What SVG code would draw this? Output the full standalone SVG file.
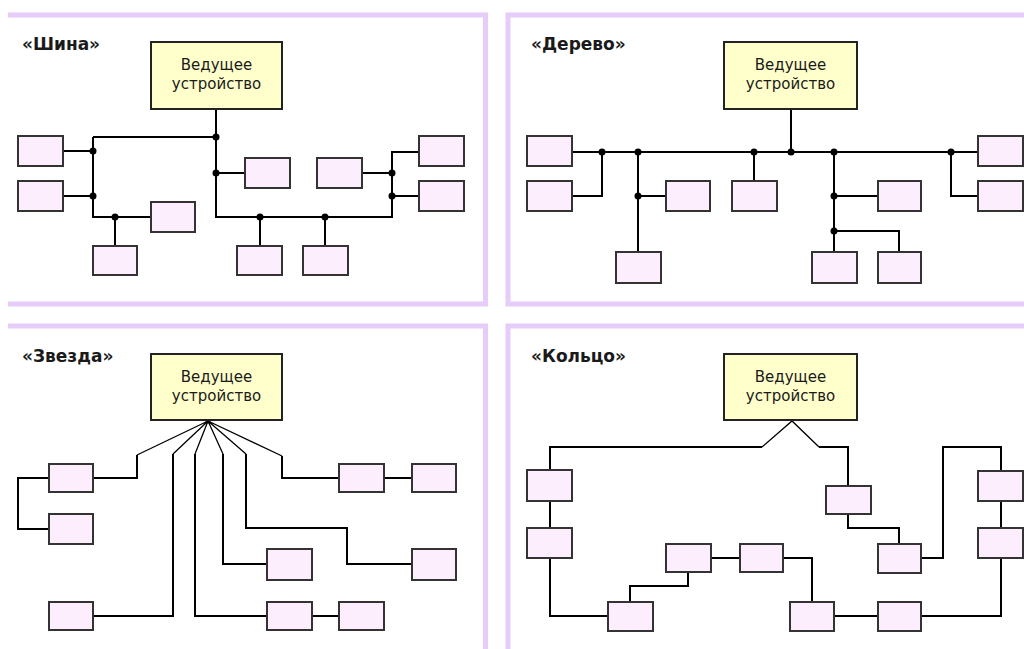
<svg xmlns="http://www.w3.org/2000/svg" width="1024" height="649" viewBox="0 0 1024 649">
<style>
.frame{fill:none;stroke:#E6CCF8;stroke-width:5}
.master{fill:#FFFFCC;stroke:#222;stroke-width:2}
.dev{fill:#FCEEFC;stroke:#333;stroke-width:2}
.wire{fill:none;stroke:#000;stroke-width:2}
.thin{fill:none;stroke:#000;stroke-width:1.3}
.dot{fill:#000}
.title{font-family:"DejaVu Sans",sans-serif;font-weight:bold;font-size:17px;fill:#1a1a1a}
.label{font-family:"DejaVu Sans",sans-serif;font-size:15px;fill:#1a1a1a;text-anchor:middle}
</style>
<rect width="1024" height="649" fill="#fff"/>
<g id="frames">
<path class="frame" d="M8 15 H485.5 V304 H8"/>
<path class="frame" d="M1024 15 H508 V304 H1024"/>
<path class="frame" d="M8 326 H485.5 V649"/>
<path class="frame" d="M1024 326 H508 V649"/>
</g>
<g id="titles">
<text class="title" x="22" y="50">«Шина»</text>
<text class="title" x="531" y="50">«Дерево»</text>
<text class="title" x="22" y="362">«Звезда»</text>
<text class="title" x="531" y="362">«Кольцо»</text>
</g>
<g id="connectors">
<!-- Bus -->
<path class="wire" d="M216 109 V217 H392 V152 H419"/>
<path class="wire" d="M93 137 H216"/>
<path class="wire" d="M93 137 V217 H151"/>
<path class="wire" d="M63 151 H93 M63 196 H93 M115 217 V246 M216 173 H245 M260 217 V246 M325 217 V246 M362 173 H392 M392 196 H419"/>
<!-- Tree -->
<path class="wire" d="M791 109 V152 M572 152 H978 M602 152 V196 H572 M638 152 V252 M638 196 H666 M754 152 V181 M834 152 V252 M834 196 H878 M834 231 H899 V252 M951 152 V196 H978"/>
<!-- Star -->
<path class="thin" d="M208 421 L137 455 M208 421 L173 454 M208 421 L195 454 M208 421 L223 454 M208 421 L246 454 M208 421 L282 456"/>
<path class="wire" d="M137 455 V478 H93 M49 478 H18 V529 H49 M173 454 V616 H93 M195 454 V616 H267 M312 616 H339 M223 454 V564 H267 M246 454 V528 H347 V564 H412 M282 456 V478 H339 M384 478 H412"/>
<!-- Ring -->
<path class="thin" d="M762 447 L792 421 L819 447"/>
<path class="wire" d="M762 447 H550 V470 M819 447 H848 V486 M848 514 V528 H899 V544 M921 558 H943 V447 H1001 V471 M1001 501 V528 M1001 558 V616 H921 M878 616 H834 M812 602 V558 H783 M740 558 H711 M688 572 V586 H630 V602 M608 616 H550 V558 M550 501 V528"/>
<g class="dot">
<circle cx="216" cy="137" r="3.5"/><circle cx="93" cy="151" r="3.5"/><circle cx="93" cy="196" r="3.5"/><circle cx="115" cy="217" r="3.5"/><circle cx="216" cy="173" r="3.5"/><circle cx="260" cy="217" r="3.5"/><circle cx="325" cy="217" r="3.5"/><circle cx="392" cy="173" r="3.5"/><circle cx="392" cy="196" r="3.5"/>
<circle cx="602" cy="152" r="3.5"/><circle cx="638" cy="152" r="3.5"/><circle cx="638" cy="196" r="3.5"/><circle cx="754" cy="152" r="3.5"/><circle cx="791" cy="152" r="3.5"/><circle cx="834" cy="152" r="3.5"/><circle cx="834" cy="196" r="3.5"/><circle cx="834" cy="231" r="3.5"/><circle cx="951" cy="152" r="3.5"/>
<circle cx="208" cy="421" r="2.5"/>
</g>
</g>
<g id="bus-master"><rect class="master" x="151" y="42" width="131" height="67"/><text class="label" x="216.5" y="70">Ведущее</text><text class="label" x="216.5" y="89">устройство</text></g>
<g id="bus-devices">
<rect id="bus-a" class="dev" x="18" y="136" width="45" height="30"/>
<rect id="bus-b" class="dev" x="18" y="181" width="45" height="30"/>
<rect id="bus-c" class="dev" x="151" y="202" width="44" height="30"/>
<rect id="bus-d" class="dev" x="93" y="246" width="44" height="29"/>
<rect id="bus-e" class="dev" x="245" y="158" width="45" height="30"/>
<rect id="bus-f" class="dev" x="237" y="246" width="45" height="29"/>
<rect id="bus-g" class="dev" x="303" y="246" width="45" height="29"/>
<rect id="bus-h" class="dev" x="317" y="158" width="45" height="30"/>
<rect id="bus-i" class="dev" x="419" y="136" width="45" height="30"/>
<rect id="bus-j" class="dev" x="419" y="181" width="45" height="30"/>
</g>
<g id="tree-master"><rect class="master" x="724" y="42" width="133" height="67"/><text class="label" x="790.5" y="70">Ведущее</text><text class="label" x="790.5" y="89">устройство</text></g>
<g id="tree-devices">
<rect id="tree-1" class="dev" x="527" y="136" width="45" height="30"/>
<rect id="tree-2" class="dev" x="527" y="181" width="45" height="30"/>
<rect id="tree-3" class="dev" x="666" y="181" width="44" height="30"/>
<rect id="tree-4" class="dev" x="616" y="252" width="45" height="31"/>
<rect id="tree-5" class="dev" x="732" y="181" width="45" height="30"/>
<rect id="tree-6" class="dev" x="878" y="181" width="43" height="30"/>
<rect id="tree-7" class="dev" x="812" y="252" width="45" height="31"/>
<rect id="tree-8" class="dev" x="878" y="252" width="43" height="31"/>
<rect id="tree-9" class="dev" x="978" y="136" width="45" height="30"/>
<rect id="tree-10" class="dev" x="978" y="181" width="45" height="30"/>
</g>
<g id="star-master"><rect class="master" x="151" y="354" width="131" height="66"/><text class="label" x="216.5" y="382">Ведущее</text><text class="label" x="216.5" y="401">устройство</text></g>
<g id="star-devices">
<rect id="star-1" class="dev" x="49" y="464" width="44" height="28"/>
<rect id="star-2" class="dev" x="49" y="514" width="44" height="30"/>
<rect id="star-3" class="dev" x="49" y="602" width="44" height="28"/>
<rect id="star-4" class="dev" x="267" y="549" width="45" height="31"/>
<rect id="star-5" class="dev" x="267" y="602" width="45" height="28"/>
<rect id="star-6" class="dev" x="339" y="602" width="45" height="28"/>
<rect id="star-7" class="dev" x="412" y="549" width="44" height="31"/>
<rect id="star-8" class="dev" x="339" y="464" width="45" height="28"/>
<rect id="star-9" class="dev" x="412" y="464" width="44" height="28"/>
</g>
<g id="ring-master"><rect class="master" x="724" y="354" width="133" height="66"/><text class="label" x="790.5" y="382">Ведущее</text><text class="label" x="790.5" y="401">устройство</text></g>
<g id="ring-devices">
<rect id="ring-1" class="dev" x="826" y="486" width="45" height="28"/>
<rect id="ring-2" class="dev" x="878" y="544" width="43" height="29"/>
<rect id="ring-3" class="dev" x="978" y="471" width="45" height="30"/>
<rect id="ring-4" class="dev" x="978" y="528" width="45" height="30"/>
<rect id="ring-5" class="dev" x="878" y="602" width="43" height="29"/>
<rect id="ring-6" class="dev" x="790" y="602" width="44" height="29"/>
<rect id="ring-7" class="dev" x="740" y="544" width="43" height="28"/>
<rect id="ring-8" class="dev" x="666" y="544" width="45" height="28"/>
<rect id="ring-9" class="dev" x="608" y="602" width="45" height="29"/>
<rect id="ring-10" class="dev" x="527" y="470" width="45" height="31"/>
<rect id="ring-11" class="dev" x="527" y="528" width="45" height="30"/>
</g>
</svg>
